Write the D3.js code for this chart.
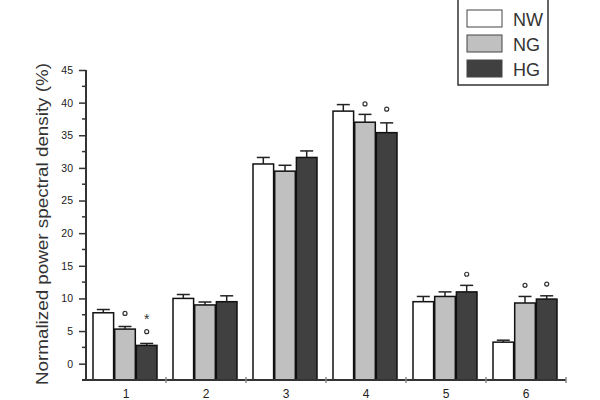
<!DOCTYPE html>
<html><head><meta charset="utf-8">
<script src="https://cdn.jsdelivr.net/npm/d3@7"></script>
<style>body{margin:0;background:#fff}svg{display:block}text{font-family:Arial,"Liberation Sans",sans-serif}</style>
</head><body><svg id="c" width="600" height="400"></svg>
<script>
const categories = ["1","2","3","4","5","6"];
const seriesNames = ["NW","NG","HG"];
const seriesColors = ["#ffffff","#c0c0c0","#404040"];
const NW = [7.8, 10.0, 30.6, 38.7, 9.5, 3.3];
const NG = [5.3, 9.0, 29.5, 37.0, 10.3, 9.3];
const HG = [2.8, 9.5, 31.6, 35.4, 11.0, 9.9];
const NW_err = [0.5, 0.6, 1.0, 1.0, 0.8, 0.3];
const NG_err = [0.4, 0.45, 0.9, 1.2, 0.7, 1.0];
const HG_err = [0.3, 0.9, 1.0, 1.5, 1.0, 0.5];
// significance markers: [categoryIndex, seriesIndex, value, symbol]
const marks = [[0,1,7.7,"o"],[0,2,7.1,"*"],[0,2,4.9,"o"],[3,1,39.8,"o"],[3,2,39.0,"o"],[4,2,13.7,"o"],[5,1,12.0,"o"],[5,2,12.2,"o"]];
const yTicks = [0,5,10,15,20,25,30,35,40,45];
const yLabel = "Normalized power spectral density (%)";

const svg = d3.select("#c");
const y = d3.scaleLinear().domain([-2.5,45]).range([380,70]);
const x0 = d3.scaleBand().domain(categories).range([86,566]);
const x1 = d3.scaleBand().domain(seriesNames).range([7,71]).paddingInner(0.05);
const vals = [NW,NG,HG], errs=[NW_err,NG_err,HG_err];

// bars
const data = [];
categories.forEach((c,i)=>seriesNames.forEach((s,j)=>data.push({c,s,j,v:vals[j][i],e:errs[j][i]})));
const g = svg.append("g");
g.selectAll("rect.bar").data(data).join("rect")
  .attr("x",d=>x0(d.c)+x1(d.s)).attr("width",x1.bandwidth())
  .attr("y",d=>y(d.v)).attr("height",d=>y(-2.5)-y(d.v))
  .attr("fill",d=>seriesColors[d.j]).attr("stroke","#111").attr("stroke-width",1.5);
// error bars
const eb = g.selectAll("g.err").data(data).join("g").attr("stroke","#222").attr("stroke-width",1.5);
eb.append("line").attr("x1",d=>x0(d.c)+x1(d.s)+x1.bandwidth()/2).attr("x2",d=>x0(d.c)+x1(d.s)+x1.bandwidth()/2)
  .attr("y1",d=>y(d.v)).attr("y2",d=>y(d.v+d.e));
eb.append("line").attr("x1",d=>x0(d.c)+x1(d.s)+x1.bandwidth()/2-6.5).attr("x2",d=>x0(d.c)+x1(d.s)+x1.bandwidth()/2+6.5)
  .attr("y1",d=>y(d.v+d.e)).attr("y2",d=>y(d.v+d.e));
// marks
marks.forEach(m=>{
  const cx = x0(categories[m[0]])+x1(seriesNames[m[1]])+x1.bandwidth()/2;
  if(m[3]==="o") svg.append("circle").attr("cx",cx).attr("cy",y(m[2])).attr("r",2).attr("fill","none").attr("stroke","#333").attr("stroke-width",1.2);
  else svg.append("text").attr("x",cx).attr("y",y(m[2])+7).attr("text-anchor","middle").attr("font-size",14).attr("fill","#333").text("*");
});

// y axis
const ya = svg.append("g").attr("transform","translate(86,0)")
  .call(d3.axisLeft(y).tickValues(yTicks).tickSize(7).tickPadding(6).tickFormat(d3.format("d")));
ya.select(".domain").attr("d","M0,"+y(45)+"V"+y(-2.5)).attr("stroke","#333").attr("stroke-width",2);
ya.selectAll(".tick line").attr("stroke","#333").attr("stroke-width",1.5);
ya.selectAll(".tick text").attr("font-size",10.5).attr("fill","#222");
// minor ticks
svg.append("g").selectAll("line").data(yTicks.map(t=>t+2.5).filter(t=>t<45)).join("line")
  .attr("x1",82).attr("x2",86).attr("y1",d=>y(d)).attr("y2",d=>y(d)).attr("stroke","#333").attr("stroke-width",1.5);

// x axis
const xa = svg.append("g").attr("transform","translate(0,380)")
  .call(d3.axisBottom(x0).tickSize(0).tickPadding(9));
xa.select(".domain").attr("d","M82,0H566").attr("stroke","#333").attr("stroke-width",2);
xa.selectAll(".tick text").attr("font-size",12).attr("fill","#222");
svg.append("g").selectAll("line").data(categories.slice(1).concat(["end"])).join("line")
  .attr("x1",d=>d==="end"?566:x0(d)).attr("x2",d=>d==="end"?566:x0(d))
  .attr("y1",377).attr("y2",383).attr("stroke","#888").attr("stroke-width",1.5);

// y label
svg.append("text").attr("transform","translate(48,224) rotate(-90)").attr("text-anchor","middle")
  .attr("font-size",16).attr("fill","#333").attr("textLength",322).attr("lengthAdjust","spacingAndGlyphs").text(yLabel);

// legend
svg.append("path").attr("d","M458,-2V85H548V-2").attr("fill","none").attr("stroke","#333").attr("stroke-width",1.5);
const lg = svg.append("g").selectAll("g").data(seriesNames).join("g")
  .attr("transform",(d,i)=>`translate(467,${10+i*25})`);
lg.append("rect").attr("width",35).attr("height",17).attr("fill",(d,i)=>seriesColors[i]).attr("stroke","#444").attr("stroke-width",1);
lg.append("text").attr("x",46).attr("y",16).attr("font-size",18).attr("fill","#333").text(d=>d);
</script></body></html>
